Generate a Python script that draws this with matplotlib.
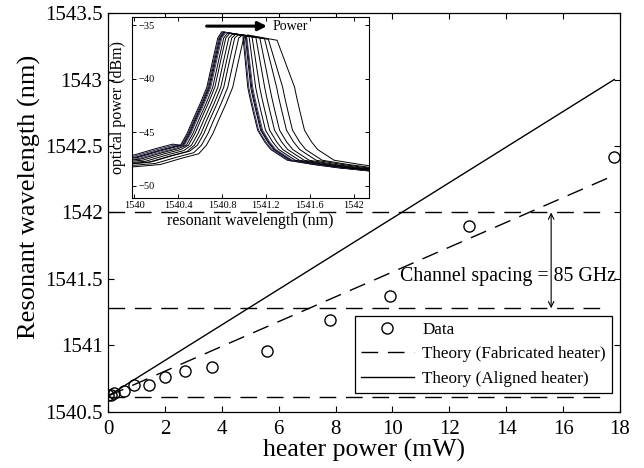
import numpy as np
import matplotlib
matplotlib.use("Agg")
import matplotlib.pyplot as plt

plt.rcParams["font.family"] = ["Liberation Serif", "DejaVu Serif"]

# Measured resonance shift vs heater power
power = [0.0, 0.1, 0.2, 0.55, 0.9, 1.45, 2.0, 2.7, 3.65, 5.6, 7.8, 9.9, 12.7, 17.8]
wavelength = [1540.63, 1540.63, 1540.64, 1540.66, 1540.70, 1540.70, 1540.76,
              1540.81, 1540.84, 1540.96, 1541.19, 1541.37, 1541.90, 1542.42]

# Theory lines (end points)
theory_x = [0.0, 17.8]
fab_y = [1540.62, 1542.28]
aligned_y = [1540.62, 1543.0]

# Channel reference levels
ref_levels = [1540.61, 1541.28, 1542.0]
ref_x = [0.0, 17.6]
spacing_x = 15.58

# Inset spectra: rising-edge / falling-edge positions (at -40.8 dBm), peak levels
rise = [1540.662, 1540.671, 1540.680, 1540.689, 1540.698, 1540.716,
        1540.735, 1540.762, 1540.789, 1540.816, 1540.853, 1540.898]
fall = [1541.035, 1541.044, 1541.062, 1541.071, 1541.080, 1541.107,
        1541.144, 1541.189, 1541.235, 1541.298, 1541.353, 1541.462]
peak = [-35.62, -35.64, -35.66, -35.68, -35.70, -35.74,
        -35.78, -35.82, -35.86, -35.88, -35.90, -35.92]
corner = [-35.93, -35.95, -35.97, -36.0, -36.02, -36.06,
          -36.1, -36.15, -36.2, -36.28, -36.34, -36.42]
corner_gap = [0.045, 0.045, 0.05, 0.05, 0.055, 0.06,
              0.07, 0.08, 0.09, 0.11, 0.13, 0.16]
left_shift = [0.5, 0.4, 0.3, 0.25, 0.15, 0.1, 0.0, -0.1, -0.2, -0.15, -0.3, -0.4]
curve_color = ["k", "#2a2a66", "k", "k", "#3a3a70", "k",
               "k", "k", "k", "k", "k", "k"]

# flank shapes
lf_dx = [-1.0, -0.66, -0.46, -0.31, -0.24, -0.18, -0.13, -0.06, 0.0, 0.06, 0.10]
lf_y = [-47.9, -47.6, -47.0, -46.6, -46.2, -45.1, -43.9, -42.3, -40.8, -38.0, -36.2]
rf_dx = [0.0, 0.018, 0.045, 0.09, 0.155, 0.21, 0.36, 0.6, 0.82, 1.2]
rf_y = [-40.8, -41.7, -42.9, -44.8, -45.9, -46.6, -47.6, -48.0, -48.3, -48.7]

fig = plt.figure(figsize=(6.44, 4.68), dpi=100)
ax = fig.add_axes([0.1677, 0.1197, 0.7950, 0.8525])

for lev in ref_levels:
    ax.plot(ref_x, [lev, lev], color="k", lw=1.0, dashes=(12, 7))

ax.plot(power, wavelength, "o", mfc="none", mec="k", ms=8, mew=1.0, label="Data")
ax.plot(theory_x, fab_y, color="k", lw=1.0, dashes=(12, 7),
        label="Theory (Fabricated heater)")
ax.plot(theory_x, aligned_y, color="k", lw=1.0, label="Theory (Aligned heater)")

ax.annotate("", xy=(spacing_x, ref_levels[2]), xytext=(spacing_x, ref_levels[1]),
            arrowprops=dict(arrowstyle="<->", lw=0.8, color="k",
                            shrinkA=0, shrinkB=0, mutation_scale=10))
ax.text(10.25, 1541.52, "Channel spacing = 85 GHz", fontsize=14.3,
        va="center", ha="left")

ax.set_xlim(0, 18)
ax.set_ylim(1540.5, 1543.5)
ax.set_xticks(np.arange(0, 19, 2))
ax.set_yticks(np.arange(1540.5, 1543.6, 0.5))
ax.set_yticklabels(["%g" % v for v in np.arange(1540.5, 1543.6, 0.5)])
ax.tick_params(direction="in", top=True, right=True, length=4, width=0.8,
               labelsize=15)
ax.tick_params(axis="x", pad=6)
ax.tick_params(axis="y", pad=4)
ax.set_xlabel("heater power (mW)", fontsize=18.5, labelpad=0)
ax.set_ylabel("Resonant wavelength (nm)", fontsize=19)
ax.yaxis.set_label_coords(-0.131, 0.54)
for s in ax.spines.values():
    s.set_linewidth(0.9)

leg = ax.legend(loc="lower right", bbox_to_anchor=(0.984, 0.048),
                borderaxespad=0, fontsize=12.3, frameon=True, fancybox=False,
                edgecolor="k", framealpha=1, handlelength=3.1,
                handletextpad=0.5, labelspacing=0.5, borderpad=0.35)
leg.get_frame().set_linewidth(0.9)

# Inset spectrum
axi = fig.add_axes([132 / 644, 1 - 198 / 468, 237 / 644, 181 / 468])
for i in range(len(rise)):
    xs = [rise[i] + d for d in lf_dx]
    ys = [y + (left_shift[i] if k < 4 else 0) for k, y in enumerate(lf_y)]
    xs += [rise[i] + 0.136, fall[i] - corner_gap[i]]
    ys += [peak[i], corner[i]]
    xs += [fall[i] + d for d in rf_dx]
    ys += rf_y
    axi.plot(xs, ys, color=curve_color[i], lw=0.7)

axi.annotate("", xy=(1541.21, -35.1), xytext=(1540.66, -35.1),
             arrowprops=dict(arrowstyle="-|>", lw=2.2, color="k",
                             shrinkA=0, shrinkB=0, mutation_scale=13))
axi.text(1541.26, -35.1, "Power", fontsize=10, va="center", ha="left")

axi.set_xlim(1539.98, 1542.14)
axi.set_ylim(-51.12, -34.25)
axi.set_xticks([1540, 1540.4, 1540.8, 1541.2, 1541.6, 1542])
axi.set_xticklabels(["1540", "1540.4", "1540.8", "1541.2", "1541.6", "1542"])
axi.set_yticks([-35, -40, -45, -50])
axi.tick_params(direction="in", top=True, right=True, length=3, width=0.7,
                labelsize=7.5)
axi.tick_params(axis="x", pad=2)
axi.tick_params(axis="y", pad=-5)
for lbl in axi.get_yticklabels():
    lbl.set_horizontalalignment("left")
axi.set_xlabel("resonant wavelength (nm)", fontsize=11.5)
axi.set_ylabel("optical power (dBm)", fontsize=11.5)
axi.xaxis.set_label_coords(0.5, -0.085)
axi.yaxis.set_label_coords(-0.025, 0.5)
for s in axi.spines.values():
    s.set_linewidth(0.8)

fig.savefig("out.png", dpi=100)
